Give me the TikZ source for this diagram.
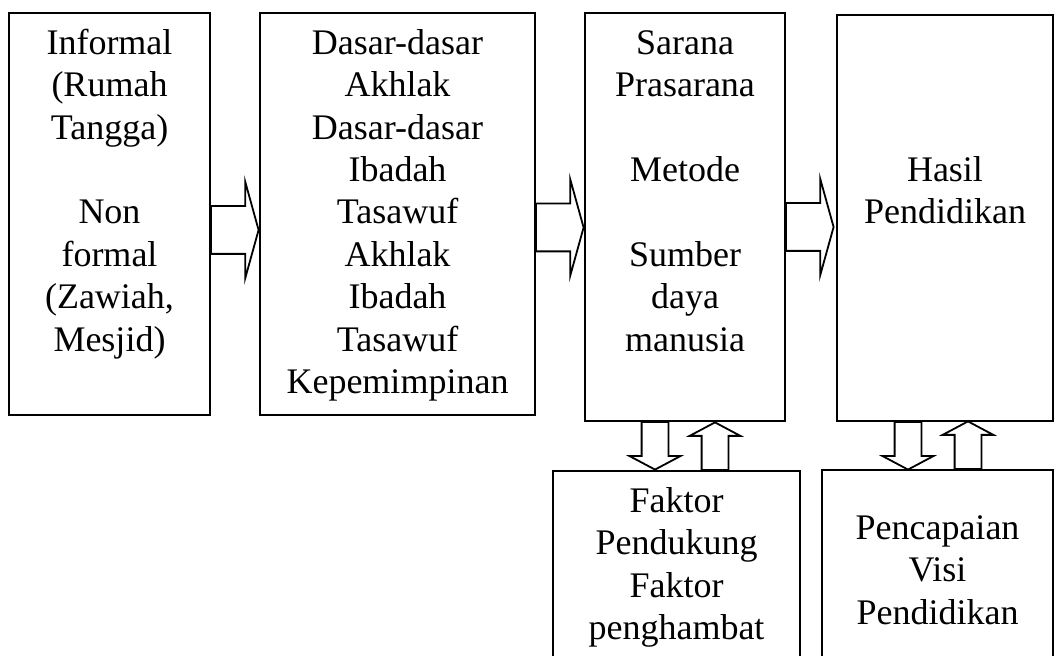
\documentclass[tikz,border=0pt]{standalone}
\usepackage{fontspec}
\setmainfont{Liberation Serif}
\usetikzlibrary{fit,shapes.arrows}

\tikzset{
	box/.style={draw, line width=1pt, inner sep=0pt},
	txt/.style={anchor=north, inner sep=0pt, align=center, font=\fontsize{18}{21.2}\selectfont},
	barrow/.style={single arrow, draw, line width=0.9pt, inner xsep=0pt, outer sep=0pt, single arrow head indent=0pt, anchor=tail},
	harrow/.style={barrow, inner ysep=11.5pt, minimum height=23.8pt, single arrow head extend=12.25pt, single arrow tip angle=149},
	varrow/.style={barrow, inner ysep=6.25pt, minimum height=23.8pt, single arrow head extend=6pt, single arrow tip angle=124}
}

\begin{document}
\begin{tikzpicture}[x=0.5pt, y=-0.5pt]
	\useasboundingbox (0,0) rectangle (1056,656);
	\clip (0,0) rectangle (1056,656);

	% boxes
	\node[box, fit={(9,13) (210,415)}] (b1) {};
	\node[box, fit={(260,13) (535,415)}] (b2) {};
	\node[box, fit={(585,13) (785,421)}] (b3) {};
	\node[box, fit={(837,15) (1053,421)}] (b4) {};
	\node[box, fit={(553,471) (800,690)}] (b5) {};
	\node[box, fit={(822,470) (1053,690)}] (b6) {};

	% texts
	\node[txt] (t1) at (b1.north) {\rule{0pt}{21pt}Informal\\(Rumah\\Tangga)\\[21.2pt]Non\\formal\\(Zawiah,\\Mesjid)};
	\node[txt] (t2) at (b2.north) {\rule{0pt}{21pt}Dasar-dasar\\Akhlak\\Dasar-dasar\\Ibadah\\Tasawuf\\Akhlak\\Ibadah\\Tasawuf\\Kepemimpinan};
	\node[txt] (t3) at (b3.north) {\rule{0pt}{21pt}Sarana\\Prasarana\\[21.2pt]Metode\\[21.2pt]Sumber\\daya\\manusia};
	\node[txt] (t4) at (b4.north) {\rule{0pt}{83.5pt}Hasil\\Pendidikan};
	\node[txt] (t5) at (b5.north) {\rule{0pt}{21pt}Faktor\\Pendukung\\Faktor\\penghambat};
	\node[txt] (t6) at (b6.north) {\rule{0pt}{35pt}Pencapaian\\Visi\\Pendidikan};

	% block arrows
	\node[harrow] (a12) at (b1.east |- 0,230) {};
	\node[harrow] (a23) at (b2.east |- 0,227.5) {};
	\node[harrow] (a34) at (b3.east |- 0,227) {};

	\node[varrow, rotate=-90] (a35) at (655,0 |- b3.south) {};
	\node[varrow, rotate=90] (a53) at (715,0 |- b5.north) {};
	\node[varrow, rotate=-90] (a46) at (908,0 |- b4.south) {};
	\node[varrow, rotate=90] (a64) at (968,0 |- b6.north) {};

\end{tikzpicture}
\end{document}
